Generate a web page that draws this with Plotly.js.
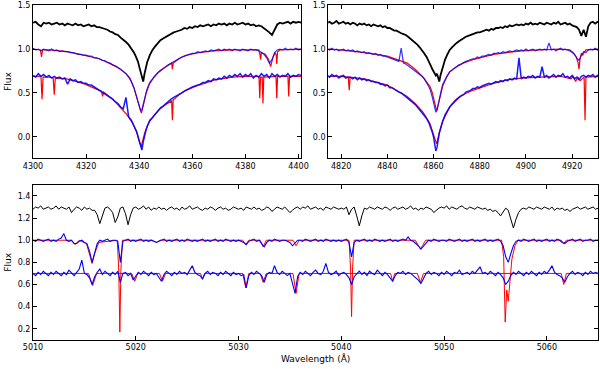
<!DOCTYPE html>
<html>
<head>
<meta charset="utf-8">
<script src="https://cdn.plot.ly/plotly-3.0.1.min.js"></script>
<style>
  html, body { margin: 0; padding: 0; background: #fff; }
  #chart { width: 600px; height: 369px; }
</style>
</head>
<body>
<div id="chart"></div>
<script>
// ---- H-gamma panel (top left) ----
const hgWave = [
  4300, 4301, 4302, 4303, 4304, 4305, 4306, 4307, 4308, 4309,
  4310, 4311, 4312, 4313, 4314, 4315, 4316, 4317, 4318, 4319,
  4320, 4321, 4322, 4323, 4324, 4325, 4326, 4327, 4328, 4329,
  4330, 4331, 4332, 4333, 4334, 4335, 4336, 4337, 4338, 4338.5,
  4339, 4339.5, 4340, 4340.5, 4341, 4341.5, 4342, 4342.5, 4343, 4344,
  4345, 4346, 4347, 4348, 4349, 4350, 4351, 4352, 4353, 4354,
  4355, 4356, 4357, 4358, 4359, 4360, 4361, 4362, 4363, 4364,
  4365, 4366, 4367, 4368, 4369, 4370, 4371, 4372, 4373, 4374,
  4375, 4376, 4377, 4378, 4379, 4380, 4381, 4382, 4383, 4384,
  4385, 4386, 4387, 4388, 4389, 4390, 4391, 4392, 4393, 4394,
  4395, 4396, 4397, 4398, 4399, 4400, 4401
];
const hgBlack = [
  1.30, 1.31, 1.28, 1.26, 1.30, 1.29, 1.30, 1.28, 1.29, 1.30,
  1.28, 1.29, 1.27, 1.29, 1.28, 1.27, 1.29, 1.27, 1.28, 1.26,
  1.27, 1.28, 1.26, 1.27, 1.25, 1.25, 1.24, 1.23, 1.22, 1.20,
  1.19, 1.17, 1.16, 1.13, 1.11, 1.08, 1.05, 1.01, 0.96, 0.93,
  0.90, 0.86, 0.80, 0.73, 0.66, 0.63, 0.72, 0.79, 0.85, 0.93,
  0.99, 1.03, 1.07, 1.10, 1.12, 1.14, 1.16, 1.17, 1.19, 1.20,
  1.21, 1.22, 1.24, 1.23, 1.25, 1.24, 1.26, 1.25, 1.27, 1.26,
  1.27, 1.28, 1.26, 1.28, 1.27, 1.29, 1.28, 1.29, 1.27, 1.29,
  1.28, 1.30, 1.28, 1.29, 1.30, 1.28, 1.29, 1.27, 1.28, 1.26,
  1.27, 1.26, 1.24, 1.22, 1.19, 1.16, 1.22, 1.28, 1.30, 1.29,
  1.30, 1.31, 1.29, 1.31, 1.30, 1.31, 1.30
];
const hgBlueMid = [
  1.01, 0.99, 1.00, 0.98, 1.00, 0.99, 0.98, 1.00, 0.98, 0.99,
  0.97, 0.98, 0.97, 0.97, 0.96, 0.96, 0.95, 0.94, 0.94, 0.93,
  0.93, 0.92, 0.92, 0.90, 0.90, 0.89, 0.87, 0.87, 0.85, 0.84,
  0.82, 0.81, 0.79, 0.77, 0.75, 0.72, 0.68, 0.63, 0.56, 0.51,
  0.46, 0.40, 0.35, 0.30, 0.31, 0.37, 0.44, 0.50, 0.55, 0.62,
  0.66, 0.70, 0.73, 0.75, 0.78, 0.80, 0.82, 0.84, 0.86, 0.88,
  0.89, 0.91, 0.92, 0.93, 0.94, 0.95, 0.95, 0.97, 0.96, 0.97,
  0.98, 0.97, 0.99, 0.98, 0.99, 1.00, 0.98, 1.00, 0.99, 1.00,
  0.98, 1.00, 0.99, 0.98, 1.00, 0.99, 0.98, 1.00, 0.99, 0.99,
  0.98, 0.96, 0.94, 0.90, 0.84, 0.88, 0.96, 0.99, 1.00, 0.99,
  1.01, 0.99, 1.00, 0.99, 1.01, 0.99, 1.00
];
const hgBlueLow = [
  0.70, 0.68, 0.72, 0.69, 0.71, 0.68, 0.70, 0.67, 0.69, 0.67,
  0.68, 0.66, 0.67, 0.60, 0.66, 0.64, 0.65, 0.62, 0.63, 0.61,
  0.61, 0.59, 0.59, 0.57, 0.56, 0.53, 0.52, 0.50, 0.48, 0.45,
  0.43, 0.40, 0.38, 0.34, 0.32, 0.45, 0.23, 0.19, 0.13, 0.10,
  0.06, 0.01, -0.05, -0.12, -0.15, -0.06, 0.02, 0.07, 0.12, 0.19,
  0.22, 0.26, 0.30, 0.33, 0.35, 0.38, 0.40, 0.43, 0.45, 0.47,
  0.49, 0.50, 0.52, 0.54, 0.55, 0.57, 0.58, 0.59, 0.60, 0.62,
  0.62, 0.64, 0.63, 0.66, 0.65, 0.67, 0.66, 0.69, 0.67, 0.70,
  0.68, 0.71, 0.69, 0.72, 0.68, 0.71, 0.69, 0.72, 0.67, 0.70,
  0.68, 0.72, 0.69, 0.71, 0.67, 0.72, 0.69, 0.71, 0.68, 0.70,
  0.69, 0.72, 0.68, 0.70, 0.69, 0.71, 0.70
];
const hgRedMidWave = [4300, 4302.8, 4303.2, 4303.6, 4306, 4313, 4319, 4325, 4330, 4333,
  4335, 4336.5, 4338, 4339, 4339.8, 4340.4, 4340.8, 4341.2, 4341.8, 4342.6,
  4343.8, 4345.5, 4347.6, 4350, 4352.2, 4352.5, 4352.8, 4355, 4357.6, 4362.5,
  4368, 4375, 4385, 4385.4, 4385.7, 4386, 4387.5, 4388.7, 4389.5, 4390.3,
  4391.2, 4391.6, 4391.8, 4392.1, 4393, 4401];
const hgRedMid = [1.00, 0.99, 0.91, 0.99, 0.99, 0.97, 0.93, 0.89, 0.82, 0.77,
  0.72, 0.67, 0.56, 0.46, 0.37, 0.30, 0.27, 0.31, 0.41, 0.50,
  0.60, 0.68, 0.75, 0.80, 0.84, 0.77, 0.84, 0.89, 0.93, 0.96,
  0.98, 0.99, 0.99, 0.95, 0.88, 0.96, 0.94, 0.88, 0.80, 0.90,
  0.96, 0.93, 0.83, 0.97, 0.99, 1.00];
const hgRedLowWave = [4300, 4303.0, 4303.4, 4303.8, 4306.4, 4307.6, 4308.0, 4308.4, 4312.7, 4318.7,
  4325, 4325.8, 4326.2, 4326.6, 4330, 4335.2, 4337.5, 4339, 4340, 4340.5,
  4340.8, 4341.3, 4342.2, 4343.8, 4345.5, 4347.6, 4350, 4352.2, 4352.5, 4352.8,
  4355, 4357.6, 4362.5, 4368.7, 4375, 4380, 4385.1, 4385.4, 4385.7, 4386.3,
  4386.6, 4386.9, 4391.5, 4391.8, 4392.1, 4396.0, 4396.3, 4396.6, 4401];
const hgRedLow = [0.69, 0.69, 0.43, 0.68, 0.68, 0.67, 0.48, 0.67, 0.66, 0.61,
  0.53, 0.52, 0.46, 0.51, 0.43, 0.26, 0.16, 0.06, -0.05, -0.10,
  -0.11, -0.04, 0.06, 0.17, 0.24, 0.31, 0.37, 0.41, 0.19, 0.42,
  0.48, 0.53, 0.59, 0.65, 0.68, 0.69, 0.69, 0.44, 0.68, 0.68,
  0.38, 0.68, 0.69, 0.44, 0.69, 0.69, 0.46, 0.69, 0.69];

// ---- H-beta panel (top right) ----
const hbWave = [
  4814, 4815, 4816, 4817, 4818, 4819, 4820, 4821, 4822, 4823,
  4824, 4825, 4826, 4827, 4828, 4829, 4830, 4831, 4832, 4833,
  4834, 4835, 4836, 4837, 4838, 4839, 4840, 4841, 4842, 4843,
  4844, 4845, 4846, 4847, 4848, 4849, 4850, 4851, 4852, 4853,
  4854, 4855, 4856, 4857, 4858, 4858.5, 4859, 4859.5, 4860, 4860.5,
  4861, 4861.5, 4862, 4862.5, 4863, 4863.5, 4864, 4865, 4866, 4867,
  4868, 4869, 4870, 4871, 4872, 4873, 4874, 4875, 4876, 4877,
  4878, 4879, 4880, 4881, 4882, 4883, 4884, 4885, 4886, 4887,
  4888, 4889, 4890, 4891, 4892, 4893, 4894, 4895, 4896, 4897,
  4898, 4899, 4900, 4901, 4902, 4903, 4904, 4905, 4906, 4907,
  4908, 4909, 4910, 4911, 4912, 4913, 4914, 4915, 4916, 4917,
  4918, 4919, 4920, 4921, 4922, 4923, 4924, 4925, 4926, 4927,
  4928, 4929, 4930, 4931, 4932
];
const hbBlack = [
  1.30, 1.31, 1.29, 1.30, 1.32, 1.29, 1.30, 1.31, 1.29, 1.30,
  1.28, 1.30, 1.29, 1.27, 1.29, 1.28, 1.29, 1.27, 1.28, 1.26,
  1.28, 1.27, 1.26, 1.27, 1.25, 1.26, 1.24, 1.24, 1.22, 1.21,
  1.21, 1.19, 1.18, 1.17, 1.16, 1.14, 1.12, 1.10, 1.08, 1.05,
  1.02, 0.99, 0.95, 0.91, 0.86, 0.84, 0.80, 0.77, 0.74, 0.71,
  0.70, 0.72, 0.66, 0.63, 0.70, 0.75, 0.80, 0.88, 0.94, 0.99,
  1.02, 1.05, 1.07, 1.09, 1.11, 1.12, 1.14, 1.15, 1.16, 1.17,
  1.18, 1.19, 1.19, 1.20, 1.21, 1.22, 1.21, 1.23, 1.22, 1.24,
  1.24, 1.25, 1.24, 1.26, 1.25, 1.27, 1.26, 1.27, 1.28, 1.27,
  1.28, 1.27, 1.29, 1.28, 1.30, 1.28, 1.29, 1.28, 1.30, 1.29,
  1.28, 1.30, 1.29, 1.28, 1.30, 1.29, 1.31, 1.28, 1.29, 1.30,
  1.28, 1.29, 1.27, 1.26, 1.25, 1.22, 1.15, 1.22, 1.14, 1.26,
  1.30, 1.31, 1.29, 1.31, 1.30
];
const hbBlueMid = [
  1.00, 0.99, 1.01, 0.99, 1.00, 0.98, 0.99, 1.00, 0.98, 0.99,
  0.98, 0.99, 0.97, 0.98, 0.97, 0.96, 0.97, 0.95, 0.96, 0.95,
  0.94, 0.95, 0.93, 0.94, 0.92, 0.92, 0.91, 0.90, 0.89, 0.88,
  0.87, 0.86, 1.01, 0.84, 0.83, 0.81, 0.80, 0.78, 0.76, 0.74,
  0.72, 0.69, 0.66, 0.62, 0.57, 0.54, 0.50, 0.45, 0.39, 0.33,
  0.28, 0.30, 0.37, 0.44, 0.50, 0.55, 0.60, 0.66, 0.70, 0.74,
  0.76, 0.79, 0.80, 0.82, 0.83, 0.85, 0.86, 0.87, 0.88, 0.89,
  0.89, 0.91, 0.90, 0.92, 0.92, 0.93, 0.94, 0.93, 0.95, 0.95,
  0.96, 0.95, 0.97, 0.96, 0.97, 0.98, 0.97, 0.98, 0.99, 0.98,
  0.99, 0.98, 1.00, 0.98, 0.99, 1.00, 0.98, 0.99, 1.00, 0.99,
  1.00, 0.99, 1.07, 0.99, 1.00, 0.98, 1.00, 1.01, 0.99, 1.00,
  0.99, 0.98, 0.96, 0.94, 0.90, 0.87, 0.93, 0.97, 0.96, 0.99,
  1.00, 0.99, 1.01, 0.99, 1.00
];
const hbBlueLow = [
  0.70, 0.68, 0.71, 0.69, 0.70, 0.67, 0.69, 0.70, 0.67, 0.68,
  0.68, 0.66, 0.68, 0.65, 0.67, 0.65, 0.66, 0.64, 0.65, 0.63,
  0.63, 0.62, 0.62, 0.60, 0.60, 0.58, 0.59, 0.56, 0.56, 0.54,
  0.53, 0.51, 0.50, 0.48, 0.46, 0.44, 0.42, 0.39, 0.37, 0.34,
  0.31, 0.28, 0.24, 0.21, 0.16, 0.13, 0.09, 0.05, 0.00, -0.07,
  -0.16, -0.12, -0.03, 0.04, 0.09, 0.14, 0.18, 0.25, 0.30, 0.34,
  0.37, 0.40, 0.42, 0.45, 0.47, 0.48, 0.51, 0.52, 0.53, 0.55,
  0.55, 0.57, 0.56, 0.58, 0.59, 0.60, 0.61, 0.60, 0.62, 0.63,
  0.62, 0.64, 0.63, 0.65, 0.64, 0.66, 0.65, 0.67, 0.66, 0.90,
  0.66, 0.68, 0.67, 0.69, 0.68, 0.70, 0.67, 0.69, 0.68, 0.80,
  0.68, 0.70, 0.67, 0.69, 0.71, 0.68, 0.70, 0.69, 0.72, 0.68,
  0.69, 0.67, 0.70, 0.66, 0.68, 0.65, 0.69, 0.70, 0.68, 0.70,
  0.69, 0.71, 0.68, 0.70, 0.69
];
const hbRedMidWave = [4814, 4819.6, 4830, 4840, 4848.6, 4852, 4855.5, 4857, 4858.5, 4859.5,
  4860.3, 4860.9, 4861.3, 4861.7, 4862.3, 4863, 4864, 4865.5, 4867, 4869.5,
  4872.8, 4877, 4881.5, 4886, 4891.8, 4898, 4906, 4915, 4919, 4920.5,
  4921.8, 4922.6, 4923.0, 4923.4, 4924.0, 4924.6, 4925.2, 4926, 4932];
const hbRedMid = [1.00, 0.99, 0.96, 0.92, 0.84, 0.77, 0.68, 0.63, 0.57, 0.50,
  0.42, 0.34, 0.30, 0.33, 0.40, 0.49, 0.58, 0.67, 0.74, 0.79,
  0.84, 0.88, 0.91, 0.94, 0.96, 0.98, 0.99, 1.00, 0.99, 0.96,
  0.91, 0.84, 0.77, 0.88, 0.95, 0.93, 0.96, 0.99, 1.00];
const hbRedLowWave = [4814, 4819.6, 4823.1, 4823.5, 4823.9, 4830, 4840, 4848.6, 4852, 4855.5,
  4858.5, 4860, 4860.8, 4861.3, 4861.8, 4862.5, 4864, 4867, 4869.5, 4872.8,
  4877, 4881.5, 4886, 4891.8, 4898, 4906, 4915, 4919.5, 4920.5, 4921.5,
  4922.5, 4923.5, 4925.2, 4925.6, 4926.0, 4932];
const hbRedLow = [0.69, 0.69, 0.68, 0.53, 0.68, 0.66, 0.59, 0.46, 0.38, 0.28,
  0.15, 0.04, -0.04, -0.08, -0.03, 0.05, 0.18, 0.34, 0.42, 0.48,
  0.53, 0.57, 0.61, 0.65, 0.67, 0.68, 0.69, 0.66, 0.69, 0.63,
  0.68, 0.64, 0.68, 0.19, 0.68, 0.69];

// ---- metal line region (bottom), 0.25 A sampling ----
const mlWave = [
  5010, 5010.25, 5010.5, 5010.75, 5011, 5011.25, 5011.5, 5011.75,
  5012, 5012.25, 5012.5, 5012.75, 5013, 5013.25, 5013.5, 5013.75,
  5014, 5014.25, 5014.5, 5014.75, 5015, 5015.25, 5015.5, 5015.75,
  5016, 5016.25, 5016.5, 5016.75, 5017, 5017.25, 5017.5, 5017.75,
  5018, 5018.25, 5018.5, 5018.75, 5019, 5019.25, 5019.5, 5019.75,
  5020, 5020.25, 5020.5, 5020.75, 5021, 5021.25, 5021.5, 5021.75,
  5022, 5022.25, 5022.5, 5022.75, 5023, 5023.25, 5023.5, 5023.75,
  5024, 5024.25, 5024.5, 5024.75, 5025, 5025.25, 5025.5, 5025.75,
  5026, 5026.25, 5026.5, 5026.75, 5027, 5027.25, 5027.5, 5027.75,
  5028, 5028.25, 5028.5, 5028.75, 5029, 5029.25, 5029.5, 5029.75,
  5030, 5030.25, 5030.5, 5030.75, 5031, 5031.25, 5031.5, 5031.75,
  5032, 5032.25, 5032.5, 5032.75, 5033, 5033.25, 5033.5, 5033.75,
  5034, 5034.25, 5034.5, 5034.75, 5035, 5035.25, 5035.5, 5035.75,
  5036, 5036.25, 5036.5, 5036.75, 5037, 5037.25, 5037.5, 5037.75,
  5038, 5038.25, 5038.5, 5038.75, 5039, 5039.25, 5039.5, 5039.75,
  5040, 5040.25, 5040.5, 5040.75, 5041, 5041.25, 5041.5, 5041.75,
  5042, 5042.25, 5042.5, 5042.75, 5043, 5043.25, 5043.5, 5043.75,
  5044, 5044.25, 5044.5, 5044.75, 5045, 5045.25, 5045.5, 5045.75,
  5046, 5046.25, 5046.5, 5046.75, 5047, 5047.25, 5047.5, 5047.75,
  5048, 5048.25, 5048.5, 5048.75, 5049, 5049.25, 5049.5, 5049.75,
  5050, 5050.25, 5050.5, 5050.75, 5051, 5051.25, 5051.5, 5051.75,
  5052, 5052.25, 5052.5, 5052.75, 5053, 5053.25, 5053.5, 5053.75,
  5054, 5054.25, 5054.5, 5054.75, 5055, 5055.25, 5055.5, 5055.75,
  5056, 5056.25, 5056.5, 5056.75, 5057, 5057.25, 5057.5, 5057.75,
  5058, 5058.25, 5058.5, 5058.75, 5059, 5059.25, 5059.5, 5059.75,
  5060, 5060.25, 5060.5, 5060.75, 5061, 5061.25, 5061.5, 5061.75,
  5062, 5062.25, 5062.5, 5062.75, 5063, 5063.25, 5063.5, 5063.75,
  5064, 5064.25, 5064.5, 5064.75, 5065
];
const mlBlack = [
  1.28, 1.30, 1.29, 1.31, 1.28, 1.29, 1.30, 1.28,
  1.29, 1.31, 1.28, 1.30, 1.29, 1.28, 1.30, 1.25,
  1.28, 1.30, 1.29, 1.27, 1.30, 1.28, 1.29, 1.27,
  1.27, 1.23, 1.15, 1.22, 1.29, 1.30, 1.28, 1.25,
  1.16, 1.21, 1.29, 1.30, 1.24, 1.14, 1.23, 1.29,
  1.30, 1.28, 1.29, 1.31, 1.28, 1.30, 1.27, 1.29,
  1.28, 1.30, 1.28, 1.29, 1.27, 1.29, 1.30, 1.28,
  1.29, 1.27, 1.30, 1.28, 1.29, 1.31, 1.28, 1.29,
  1.30, 1.28, 1.27, 1.29, 1.28, 1.30, 1.29, 1.27,
  1.29, 1.30, 1.28, 1.29, 1.27, 1.28, 1.30, 1.29,
  1.28, 1.29, 1.27, 1.30, 1.29, 1.28, 1.30, 1.28,
  1.29, 1.27, 1.28, 1.30, 1.29, 1.26, 1.28, 1.30,
  1.29, 1.28, 1.30, 1.27, 1.25, 1.27, 1.29, 1.30,
  1.28, 1.30, 1.29, 1.31, 1.28, 1.29, 1.30, 1.28,
  1.29, 1.27, 1.30, 1.29, 1.28, 1.30, 1.29, 1.28,
  1.29, 1.28, 1.30, 1.23, 1.28, 1.30, 1.22, 1.13,
  1.22, 1.29, 1.28, 1.30, 1.29, 1.28, 1.30, 1.29,
  1.28, 1.30, 1.29, 1.27, 1.29, 1.30, 1.28, 1.29,
  1.30, 1.28, 1.29, 1.31, 1.28, 1.29, 1.27, 1.29,
  1.28, 1.30, 1.29, 1.28, 1.25, 1.27, 1.29, 1.30,
  1.29, 1.31, 1.28, 1.30, 1.29, 1.28, 1.30, 1.31,
  1.29, 1.28, 1.30, 1.29, 1.28, 1.30, 1.29, 1.28,
  1.29, 1.27, 1.28, 1.26, 1.27, 1.25, 1.22, 1.26,
  1.29, 1.27, 1.20, 1.11, 1.19, 1.25, 1.28, 1.29,
  1.28, 1.30, 1.29, 1.28, 1.30, 1.29, 1.28, 1.30,
  1.29, 1.28, 1.30, 1.27, 1.29, 1.28, 1.29, 1.27,
  1.28, 1.26, 1.28, 1.29, 1.30, 1.28, 1.29, 1.30,
  1.28, 1.29, 1.30, 1.28, 1.29
];
const mlBlueMid = [
  1.00, 0.99, 1.01, 1.00, 0.99, 1.00, 1.01, 0.99,
  1.00, 0.99, 1.01, 1.02, 1.06, 1.00, 0.99, 1.00,
  0.97, 0.97, 0.99, 1.00, 0.98, 0.97, 0.90, 0.80,
  0.88, 0.97, 1.00, 0.99, 1.00, 1.01, 0.99, 1.00,
  1.00, 0.99, 0.80, 0.99, 1.00, 1.01, 0.99, 1.00,
  0.99, 1.00, 1.01, 0.99, 1.00, 0.99, 1.00, 0.99,
  0.98, 0.99, 1.00, 1.01, 0.99, 1.00, 0.99, 1.00,
  1.01, 0.99, 1.00, 0.99, 1.01, 1.00, 0.99, 1.00,
  0.99, 1.00, 1.01, 0.99, 1.00, 0.99, 1.00, 1.01,
  0.99, 1.00, 0.99, 1.01, 1.00, 0.99, 1.00, 0.99,
  1.00, 0.99, 0.98, 0.96, 0.99, 1.00, 1.01, 0.99,
  1.00, 0.97, 0.94, 0.98, 1.00, 0.99, 1.01, 1.00,
  0.99, 1.00, 1.00, 0.99, 0.98, 0.95, 0.98, 1.00,
  1.00, 0.99, 1.01, 1.00, 0.99, 1.00, 1.01, 0.99,
  1.00, 0.99, 1.01, 1.00, 0.99, 1.00, 0.99, 1.00,
  0.99, 1.00, 1.01, 0.98, 0.85, 0.98, 1.00, 0.99,
  1.00, 1.01, 0.99, 1.00, 0.99, 1.01, 1.00, 0.99,
  1.00, 0.99, 1.00, 1.01, 0.99, 1.00, 0.99, 1.00,
  1.01, 1.00, 1.03, 1.00, 0.99, 0.97, 0.95, 0.92,
  0.95, 0.98, 1.00, 0.99, 1.01, 1.00, 0.99, 1.00,
  1.00, 0.99, 1.01, 1.00, 0.99, 1.00, 1.01, 0.99,
  1.00, 0.99, 1.00, 1.01, 0.99, 1.00, 0.99, 1.00,
  1.01, 0.99, 1.00, 0.99, 1.00, 1.01, 0.99, 0.95,
  0.85, 0.80, 0.88, 0.95, 0.99, 1.00, 0.99, 1.01,
  1.00, 0.99, 1.00, 1.01, 0.99, 1.00, 0.99, 1.00,
  1.01, 0.99, 1.00, 0.99, 1.01, 1.00, 0.98, 0.97,
  0.99, 1.00, 1.01, 0.99, 1.00, 1.01, 0.99, 1.00,
  1.00, 1.01, 0.99, 1.00, 1.00
];
const mlBlueLow = [
  0.70, 0.68, 0.71, 0.69, 0.72, 0.70, 0.68, 0.71,
  0.69, 0.72, 0.70, 0.68, 0.71, 0.69, 0.73, 0.70,
  0.68, 0.71, 0.74, 0.82, 0.70, 0.69, 0.66, 0.60,
  0.67, 0.71, 0.74, 0.69, 0.72, 0.70, 0.68, 0.71,
  0.69, 0.72, 0.62, 0.70, 0.71, 0.68, 0.70, 0.64,
  0.67, 0.71, 0.69, 0.72, 0.70, 0.68, 0.71, 0.69,
  0.70, 0.67, 0.63, 0.69, 0.72, 0.70, 0.68, 0.71,
  0.69, 0.72, 0.70, 0.71, 0.69, 0.73, 0.77, 0.71,
  0.69, 0.68, 0.65, 0.70, 0.72, 0.69, 0.71, 0.70,
  0.68, 0.71, 0.69, 0.72, 0.70, 0.68, 0.71, 0.69,
  0.70, 0.68, 0.69, 0.57, 0.68, 0.71, 0.69, 0.72,
  0.70, 0.68, 0.62, 0.69, 0.71, 0.70, 0.77, 0.71,
  0.69, 0.72, 0.70, 0.68, 0.70, 0.61, 0.52, 0.67,
  0.71, 0.69, 0.72, 0.70, 0.68, 0.71, 0.73, 0.70,
  0.69, 0.72, 0.79, 0.71, 0.69, 0.70, 0.72, 0.68,
  0.70, 0.71, 0.69, 0.66, 0.60, 0.67, 0.70, 0.72,
  0.69, 0.71, 0.68, 0.72, 0.70, 0.69, 0.73, 0.70,
  0.68, 0.71, 0.69, 0.66, 0.63, 0.68, 0.71, 0.70,
  0.72, 0.69, 0.71, 0.70, 0.68, 0.66, 0.64, 0.61,
  0.66, 0.70, 0.72, 0.69, 0.71, 0.70, 0.68, 0.71,
  0.69, 0.72, 0.70, 0.68, 0.71, 0.70, 0.73, 0.69,
  0.70, 0.71, 0.69, 0.72, 0.70, 0.73, 0.76, 0.70,
  0.71, 0.69, 0.72, 0.70, 0.68, 0.71, 0.69, 0.66,
  0.60, 0.63, 0.68, 0.71, 0.69, 0.72, 0.70, 0.68,
  0.71, 0.69, 0.72, 0.70, 0.68, 0.71, 0.69, 0.72,
  0.70, 0.73, 0.77, 0.71, 0.69, 0.68, 0.66, 0.62,
  0.67, 0.70, 0.72, 0.69, 0.71, 0.70, 0.68, 0.71,
  0.69, 0.72, 0.70, 0.71, 0.70
];
const mlRedMidWave = [5010, 5013.7, 5014.1, 5014.5, 5015.2, 5015.5, 5015.75, 5016.0, 5016.4, 5018.2,
  5018.35, 5018.45, 5018.55, 5018.7, 5021.6, 5022.0, 5022.4, 5030.4, 5030.7, 5031.0,
  5032.1, 5032.4, 5032.7, 5035.3, 5035.6, 5035.9, 5040.75, 5040.9, 5041.0, 5041.1,
  5041.25, 5047.2, 5047.5, 5047.7, 5047.9, 5048.2, 5055.6, 5055.8, 5055.95, 5056.1,
  5056.25, 5056.4, 5056.6, 5056.9, 5057.2, 5061.4, 5061.65, 5061.9, 5065];
const mlRedMid = [1.00, 1.00, 0.96, 1.00, 0.97, 0.88, 0.79, 0.88, 0.98, 1.00,
  0.72, 0.17, 0.72, 1.00, 1.00, 0.98, 1.00, 1.00, 0.96, 1.00,
  1.00, 0.94, 1.00, 1.00, 0.95, 1.00, 1.00, 0.75, 0.31, 0.75,
  1.00, 1.00, 0.95, 0.92, 0.95, 1.00, 1.00, 0.85, 0.26, 0.55,
  0.45, 0.62, 0.83, 0.95, 1.00, 1.00, 0.97, 1.00, 1.00];
const mlRedLowWave = [5010, 5015.4, 5015.8, 5016.2, 5019.6, 5019.9, 5020.2, 5022.3, 5022.6, 5022.9,
  5026.3, 5026.5, 5026.7, 5030.4, 5030.7, 5031.0, 5032.1, 5032.4, 5032.7, 5035.3,
  5035.6, 5035.9, 5044.8, 5045.0, 5045.2, 5047.4, 5047.7, 5048.0, 5061.4, 5061.65,
  5061.9, 5065];
const mlRedLow = [0.70, 0.70, 0.59, 0.70, 0.70, 0.63, 0.70, 0.70, 0.63, 0.70,
  0.70, 0.65, 0.70, 0.70, 0.57, 0.70, 0.70, 0.62, 0.70, 0.70,
  0.52, 0.70, 0.70, 0.63, 0.70, 0.70, 0.62, 0.70, 0.70, 0.60,
  0.70, 0.70];

// tick positions
const hgTicks = [4300, 4320, 4340, 4360, 4380, 4400];
const hbTicks = [4820, 4840, 4860, 4880, 4900, 4920];
const mlTicks = [5010, 5020, 5030, 5040, 5050, 5060];
const topFluxTicks = [0, 0.5, 1.0, 1.5];
const mlFluxTicks = [0.2, 0.4, 0.6, 0.8, 1.0, 1.2, 1.4];

function spec(x, y, color, width, xa, ya, opacity) {
  return {
    x: x,
    y: y,
    xaxis: xa,
    yaxis: ya,
    type: 'scatter',
    mode: 'lines',
    line: { color: color, width: width },
    opacity: opacity || 1,
    hoverinfo: 'skip',
    showlegend: false,
  };
}

const data = [
  spec(hgWave, hgBlack, 'black', 1.8, 'x', 'y'),
  spec(hgRedMidWave, hgRedMid, 'red', 1.2, 'x', 'y'),
  spec(hgRedLowWave, hgRedLow, 'red', 1.2, 'x', 'y'),
  spec(hgWave, hgBlueMid, 'blue', 1.2, 'x', 'y', 0.8),
  spec(hgWave, hgBlueLow, 'blue', 1.5, 'x', 'y', 0.9),

  spec(hbWave, hbBlack, 'black', 1.8, 'x2', 'y2'),
  spec(hbRedMidWave, hbRedMid, 'red', 1.2, 'x2', 'y2'),
  spec(hbRedLowWave, hbRedLow, 'red', 1.2, 'x2', 'y2'),
  spec(hbWave, hbBlueMid, 'blue', 1.2, 'x2', 'y2', 0.8),
  spec(hbWave, hbBlueLow, 'blue', 1.5, 'x2', 'y2', 0.9),

  // bottom: red thinner so the blue spectrum sits on top of it
  spec(mlWave, mlBlack, 'black', 1, 'x3', 'y3'),
  spec(mlRedMidWave, mlRedMid, 'red', 1, 'x3', 'y3'),
  spec(mlRedLowWave, mlRedLow, 'red', 1, 'x3', 'y3'),
  spec(mlWave, mlBlueMid, 'blue', 1.1, 'x3', 'y3'),
  spec(mlWave, mlBlueLow, 'blue', 1.1, 'x3', 'y3'),
];

const tickFont = { family: 'DejaVu Sans', size: 8, color: 'black' };
const titleFont = { family: 'DejaVu Sans', size: 9, color: 'black' };
const frame = {
  showline: true,
  linecolor: 'black',
  linewidth: 1,
  mirror: 'ticks',
  ticks: 'inside',
  ticklen: 4,
  tickcolor: 'black',
  showgrid: false,
  zeroline: false,
  tickfont: tickFont,
};

const layout = {
  width: 600,
  height: 369,
  margin: { l: 0, r: 0, t: 0, b: 0 },
  paper_bgcolor: 'white',
  plot_bgcolor: 'white',
  showlegend: false,
  xaxis: { ...frame, anchor: 'y', domain: [0.055, 0.502], range: [4300, 4401], tickvals: hgTicks },
  yaxis: {
    ...frame, anchor: 'x', domain: [0.572, 0.986], range: [-0.24, 1.5],
    tickvals: topFluxTicks, tickformat: '.1f',
    title: { text: 'Flux', font: titleFont, standoff: 4 },
  },
  xaxis2: { ...frame, anchor: 'y2', domain: [0.547, 0.997], range: [4814.4, 4931.3], tickvals: hbTicks },
  yaxis2: {
    ...frame, anchor: 'x2', domain: [0.572, 0.986], range: [-0.24, 1.5],
    tickvals: topFluxTicks, tickformat: '.1f',
  },
  xaxis3: {
    ...frame, anchor: 'y3', domain: [0.055, 0.997], range: [5010, 5065], tickvals: mlTicks,
    title: { text: 'Wavelength (Å)', font: titleFont, standoff: 4 },
  },
  yaxis3: {
    ...frame, anchor: 'x3', domain: [0.079, 0.499], range: [0.1, 1.5],
    tickvals: mlFluxTicks, tickformat: '.1f',
    title: { text: 'Flux', font: titleFont, standoff: 4 },
  },
};

Plotly.newPlot('chart', data, layout, { staticPlot: true, displayModeBar: false });
</script>
</body>
</html>
